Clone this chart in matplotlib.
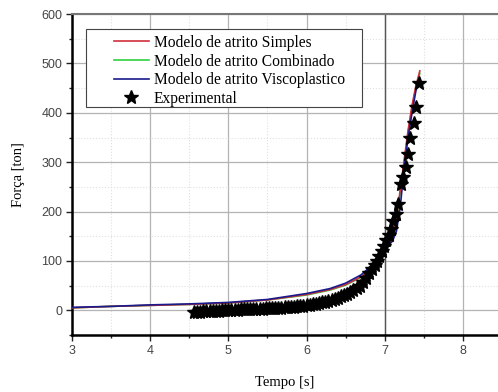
import matplotlib
matplotlib.use("Agg")
import matplotlib.pyplot as plt
from matplotlib.ticker import MultipleLocator
from matplotlib.patches import Rectangle

# ---- data ----
t_model = [3.0, 3.5, 4.0, 4.5, 5.0, 5.5, 6.0, 6.3, 6.5, 6.7, 6.8, 6.9, 7.0, 7.1, 7.15, 7.2, 7.25, 7.3, 7.35, 7.4, 7.45]
f_simples = [5, 8, 10, 12, 15, 21, 32, 42, 52, 68, 82, 100, 120, 145, 185, 245, 305, 365, 415, 455, 485]
f_combinado = [5, 8, 10, 12, 15, 21, 31, 41, 51, 67, 81, 99, 119, 143, 180, 240, 300, 360, 410, 452, 480]
f_visco = [6, 8, 11, 13, 16, 22, 34, 44, 55, 72, 86, 105, 125, 140, 160, 210, 290, 350, 400, 445, 470]

t_exp = [4.56, 4.60, 4.64, 4.68, 4.72, 4.76, 4.80, 4.84, 4.88, 4.92, 4.96, 5.00, 5.04, 5.08, 5.12,
         5.16, 5.20, 5.24, 5.28, 5.32, 5.36, 5.40, 5.44, 5.48, 5.52, 5.56, 5.60, 5.64, 5.68, 5.72,
         5.76, 5.80, 5.84, 5.88, 5.92, 5.96, 6.00, 6.04, 6.08, 6.12, 6.16, 6.20, 6.24, 6.28, 6.32,
         6.36, 6.40, 6.44, 6.48, 6.52, 6.56, 6.60, 6.64, 6.68, 6.72, 6.76, 6.80, 6.84, 6.87, 6.90,
         6.93, 6.96, 6.99, 7.02, 7.05, 7.08, 7.11, 7.14, 7.17, 7.21, 7.24, 7.27, 7.30, 7.33, 7.37,
         7.40, 7.44]
f_exp = [-4, -3, -3, -2, -2, -2, -1, -1, -1, 0, 0, 0, 1, 1, 1,
         2, 2, 2, 2, 3, 3, 3, 3, 4, 4, 4, 5, 5, 5, 6,
         6, 7, 7, 8, 8, 9, 10, 11, 12, 13, 14, 16, 17, 19, 20,
         22, 25, 28, 31, 34, 37, 41, 45, 50, 57, 65, 75, 84, 92, 100,
         110, 120, 130, 142, 152, 165, 180, 195, 215, 255, 270, 290, 316, 349, 380,
         412, 460]

labels = ["Modelo de atrito Simples", "Modelo de atrito Combinado",
          "Modelo de atrito Viscoplastico", "Experimental"]
ref_time = 7.0

# ---- figure ----
fig = plt.figure(figsize=(4.98, 3.92), dpi=100)
ax = fig.add_axes([0.1446, 0.1454, 0.8554, 0.8186])

ax.set_xlim(3, 8.45)
ax.set_ylim(-50, 600)

ax.xaxis.set_major_locator(MultipleLocator(1))
ax.xaxis.set_minor_locator(MultipleLocator(0.5))
ax.yaxis.set_major_locator(MultipleLocator(100))
ax.yaxis.set_minor_locator(MultipleLocator(50))

ax.grid(which="major", color="#b4b4b4", lw=0.9)
ax.grid(which="minor", color="#e0e0e0", lw=0.8, ls=":")
ax.axvline(ref_time, color="#555555", lw=1.0, zorder=1)
ax.set_axisbelow(True)

ax.plot(t_model, f_simples, color="#d0303a", lw=1.2, label=labels[0], zorder=3)
ax.plot(t_model, f_combinado, color="#30d040", lw=1.2, label=labels[1], zorder=2)
ax.plot(t_model, f_visco, color="#1a1a8c", lw=1.2, label=labels[2], zorder=4)
ax.plot(t_exp, f_exp, ls="none", marker="*", color="black", ms=10.5, label=labels[3], zorder=5)

for s in ["left", "bottom"]:
    ax.spines[s].set_color("black")
    ax.spines[s].set_linewidth(1.8)
ax.spines["top"].set_color("#777777")
ax.spines["top"].set_linewidth(1.5)
ax.spines["right"].set_visible(False)

ax.tick_params(which="major", direction="out", length=4, width=1, labelsize=9,
               labelcolor="#444444", colors="#222222", pad=3)
ax.tick_params(which="minor", direction="out", length=2.5, width=1, colors="#222222")
for lab in ax.get_xticklabels() + ax.get_yticklabels():
    lab.set_family("Liberation Sans")

ax.set_xlabel("Tempo [s]", family="Liberation Serif", fontsize=10.5, labelpad=14)
ax.set_ylabel("Força [ton]", family="Liberation Serif", fontsize=10.5, labelpad=12)

# legend frame (Origin-style, with wide left padding)
frame = Rectangle((0.033, 0.710), 0.648, 0.243, transform=ax.transAxes,
                  facecolor="white", edgecolor="#444444", lw=0.8, zorder=6)
ax.add_patch(frame)
leg = ax.legend(loc="upper left", bbox_to_anchor=(0.092, 0.945), frameon=False,
                prop={"family": "Liberation Serif", "size": 11.2}, handlelength=2.2,
                borderpad=0.2, labelspacing=0.17, handletextpad=0.35, borderaxespad=0)
leg.set_zorder(7)

fig.savefig("out.png", dpi=100)
